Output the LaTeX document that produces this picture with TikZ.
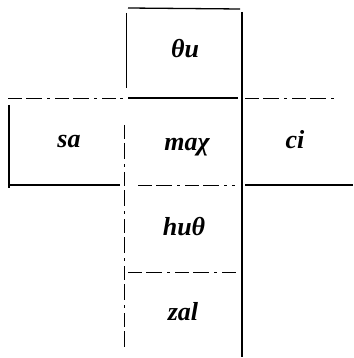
\documentclass[tikz,border=0pt]{standalone}
\usepackage{fontspec}
\setmainfont{Liberation Serif}
\begin{document}
\begin{tikzpicture}[x=1pt,y=-1pt,
  solidline/.style={line width=1.3pt},
  thinline/.style={line width=0.8pt},
  dashline/.style={line width=0.8pt, dash pattern=on 14pt off 4pt on 16pt off 5pt on 3pt off 5pt},
  lbl/.style={font=\fontsize{26}{30}\selectfont\bfseries\itshape, inner sep=0pt, anchor=base}]
\useasboundingbox (0,0) rectangle (353,358);
% labels
\node[lbl] (thu) at (185,58) {θu};
\node[lbl] (sa) at (69,147) {sa};
\node[lbl] (mach) at (187,150) {maχ};
\node[lbl] (ci) at (295,149) {ci};
\node[lbl] (huth) at (184,235) {huθ};
\node[lbl] (zal) at (183,320) {zal};
% lines
\draw[solidline] (128,8) -- (240,9);
\draw[thinline] (126,13) -- (126,88);
\draw[solidline] (242,12) -- (242,357);
\draw[dashline] (8,98) -- (123,98);
\draw[solidline] (128,98) -- (238,98);
\draw[dashline] (245,98) -- (338,98);
\draw[solidline] (9,105) -- (9,188);
\draw[dashline] (124,125) -- (124,347);
\draw[solidline] (9,185) -- (120,185);
\draw[dashline] (138,185) -- (235,185);
\draw[solidline] (245,185) -- (353,185);
\draw[dashline] (128,272) -- (237,272);
\end{tikzpicture}
\end{document}
